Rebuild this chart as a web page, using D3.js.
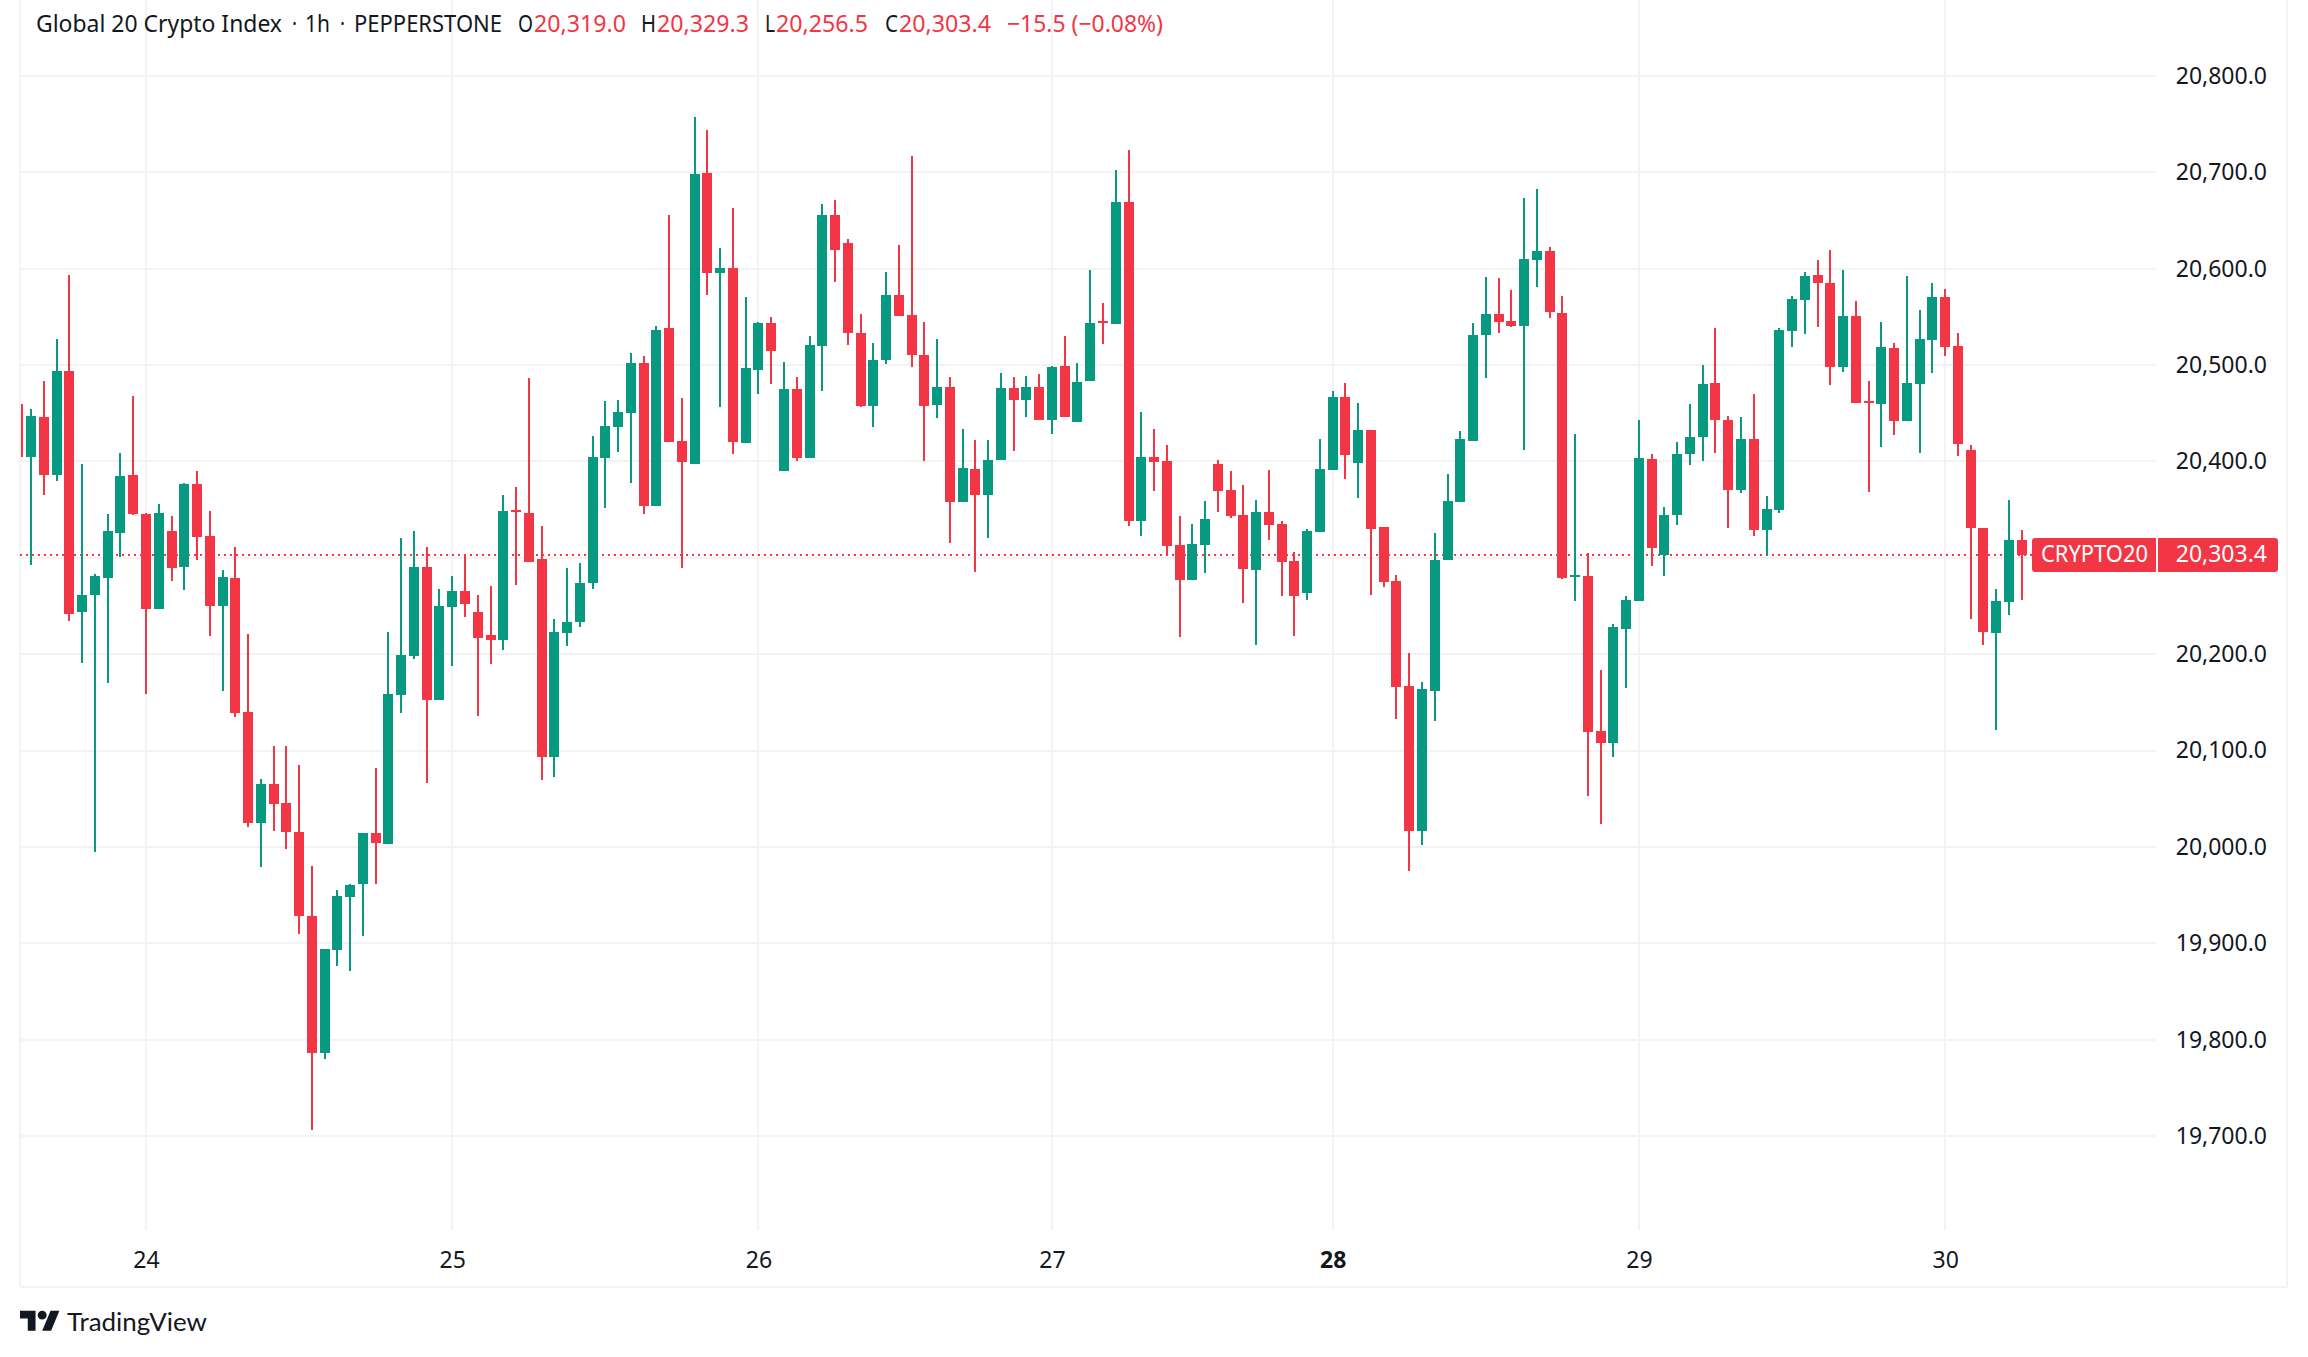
<!DOCTYPE html>
<html><head><meta charset="utf-8">
<script src="https://d3js.org/d3.v7.min.js"></script>
<style>html,body{margin:0;padding:0;background:#fff}svg{display:block}
text{font-family:"Noto Sans",sans-serif;font-size:23px;fill:#131722}</style>
</head><body><div id="c"></div>
<script>
const opens=[20460,20405,20446,20386,20494,20244,20261,20279,20326,20386,
20345,20247,20328,20290,20377,20323,20250,20279,20140,20025,
20065,20046,20015,19928,19786,19893,19948,19961,20014,20003,
20158,20198,20290,20152,20249,20266,20244,20220,20215,20350,
20346,20299,20093,20222,20233,20274,20404,20436,20450,20502,
20354,20538,20421,20397,20699,20596,20601,20419,20495,20544,
20390,20475,20404,20520,20656,20627,20533,20458,20505,20573,
20552,20510,20459,20477,20358,20392,20365,20401,20476,20464,
20477,20443,20499,20441,20483,20546,20543,20669,20338,20405,
20400,20313,20277,20313,20397,20370,20344,20287,20348,20335,
20297,20263,20327,20391,20467,20398,20433,20332,20276,20167,
20017,20162,20298,20358,20421,20531,20553,20546,20541,20609,
20618,20554,20280,20281,20120,20108,20226,20255,20403,20303,
20344,20408,20425,20481,20443,20370,20423,20329,20350,20535,
20568,20593,20585,20498,20551,20463,20460,20518,20442,20480,
20526,20571,20520,20412,20331,20222,20254,20319];
const closes=[20405,20447,20386,20494,20242,20261,20281,20328,20385,20345,
20247,20346,20289,20377,20322,20250,20280,20139,20025,20065,
20045,20015,19928,19786,19894,19949,19960,20014,20004,20159,
20199,20290,20152,20250,20266,20252,20217,20215,20349,20348,
20296,20093,20223,20233,20274,20405,20437,20451,20502,20354,
20536,20420,20399,20698,20596,20601,20420,20497,20544,20515,
20475,20404,20521,20656,20619,20533,20458,20505,20573,20551,
20510,20458,20477,20358,20393,20365,20402,20476,20464,20477,
20443,20498,20446,20482,20544,20544,20669,20338,20405,20399,
20312,20277,20314,20340,20369,20343,20288,20348,20334,20296,
20260,20328,20392,20467,20407,20433,20330,20275,20166,20016,
20164,20298,20359,20423,20531,20553,20545,20541,20610,20618,
20555,20279,20282,20119,20108,20228,20256,20404,20310,20344,
20408,20425,20480,20443,20370,20423,20329,20351,20536,20569,
20592,20585,20498,20551,20461,20461,20519,20442,20481,20527,
20571,20519,20418,20331,20223,20255,20319,20303.4];
const highs=[20460,20454,20483,20527,20594,20397,20283,20345,20409,20468,
20346,20356,20343,20378,20390,20349,20287,20311,20221,20070,
20105,20105,20085,19980,19894,19955,19962,20014,20082,20223,
20321,20328,20311,20268,20281,20304,20261,20271,20365,20373,
20487,20333,20237,20289,20295,20426,20463,20464,20513,20509,
20541,20656,20466,20757,20744,20622,20663,20571,20545,20550,
20503,20488,20530,20667,20671,20631,20553,20523,20597,20625,
20717,20545,20527,20488,20434,20422,20422,20492,20488,20489,
20491,20499,20530,20502,20599,20564,20702,20723,20451,20434,
20417,20343,20335,20359,20402,20390,20376,20360,20391,20338,
20306,20330,20423,20473,20481,20461,20433,20332,20282,20201,
20171,20326,20387,20432,20544,20591,20590,20578,20673,20683,
20623,20572,20428,20305,20184,20231,20260,20443,20408,20353,
20420,20460,20500,20539,20447,20446,20470,20364,20539,20572,
20597,20609,20619,20599,20566,20483,20545,20523,20592,20557,
20585,20579,20533,20417,20331,20268,20360,20329.3];
const lows=[20405,20293,20365,20380,20234,20191,19995,20170,20301,20344,
20159,20247,20276,20267,20298,20219,20162,20135,20021,19979,
20017,19998,19910,19706,19780,19876,19871,19908,19961,20003,
20139,20195,20066,20152,20188,20239,20136,20190,20204,20272,
20296,20069,20073,20208,20228,20268,20352,20410,20378,20345,
20354,20420,20289,20397,20573,20456,20408,20419,20470,20480,
20390,20400,20404,20473,20586,20521,20457,20436,20501,20551,
20498,20400,20445,20315,20358,20285,20321,20401,20411,20446,
20443,20429,20446,20441,20483,20522,20543,20333,20323,20369,
20302,20218,20277,20284,20348,20341,20253,20210,20319,20260,
20219,20256,20327,20391,20382,20362,20261,20270,20133,19975,
20002,20131,20298,20358,20421,20487,20533,20540,20412,20581,
20549,20278,20255,20053,20024,20093,20165,20255,20292,20281,
20334,20396,20400,20409,20331,20367,20323,20303,20347,20519,
20532,20540,20479,20493,20461,20368,20415,20427,20442,20409,
20492,20509,20406,20237,20210,20121,20241,20256.5];
const priceTicks=[20800,20700,20600,20500,20400,20300,20200,20100,20000,19900,19800,19700];
const dayIndex=[10,34,58,81,103,127,151];
const dayLabels=["24","25","26","27","28","29","30"];
const boldDay="28";
const lastPrice=20303.4;
const symbol="CRYPTO20";
const headerParts=[
 ["Global 20 Crypto Index",36,246,"#131722"],["·",292,5,"#131722"],["1h",305,25,"#131722"],
 ["·",340,5,"#131722"],["PEPPERSTONE",354,148,"#131722"],
 ["O",518,15,"#131722"],["20,319.0",534,92,"#f23645"],
 ["H",641,15,"#131722"],["20,329.3",657,92,"#f23645"],
 ["L",765,10,"#131722"],["20,256.5",776,92,"#f23645"],
 ["C",885,13,"#131722"],["20,303.4",899,92,"#f23645"],
 ["−15.5 (−0.08%)",1007,156,"#f23645"]];
const UP="#089981",DOWN="#f23645",GRID="#f3f3f3";

const W=2308,H=1357;
const svg=d3.select("#c").append("svg").attr("width",W).attr("height",H);
const y=d3.scaleLinear().domain([20800,19700]).range([76,1136]);
const x=d3.scaleLinear().domain([10,157]).range([146,2021.7]);
const paneL=20,paneR=2156,paneB=1230;

// frame
const frame=svg.append("g").attr("stroke",GRID).attr("stroke-width",2).attr("shape-rendering","crispEdges");
frame.append("line").attr("x1",20).attr("x2",20).attr("y1",0).attr("y2",1287);
frame.append("line").attr("x1",2287).attr("x2",2287).attr("y1",0).attr("y2",1287);
frame.append("line").attr("x1",20).attr("x2",2287).attr("y1",1287).attr("y2",1287);

// grid
const grid=svg.append("g").attr("stroke",GRID).attr("stroke-width",2).attr("shape-rendering","crispEdges");
grid.selectAll(".h").data(priceTicks).join("line").attr("x1",paneL).attr("x2",paneR)
  .attr("y1",d=>Math.round(y(d))).attr("y2",d=>Math.round(y(d)));
grid.selectAll(".v").data(dayIndex).join("line").attr("y1",0).attr("y2",paneB)
  .attr("x1",d=>Math.round(x(d))).attr("x2",d=>Math.round(x(d)));

svg.append("defs").append("clipPath").attr("id","pane").append("rect")
  .attr("x",paneL+1).attr("y",0).attr("width",paneR-paneL).attr("height",paneB);

// last price line
svg.append("line").attr("x1",paneL).attr("x2",2032).attr("y1",Math.round(y(lastPrice))).attr("y2",Math.round(y(lastPrice)))
  .attr("stroke",DOWN).attr("stroke-width",2).attr("stroke-dasharray","2 4").attr("shape-rendering","crispEdges");

// candles
const cg=svg.append("g").attr("clip-path","url(#pane)").attr("shape-rendering","crispEdges");
const idx=d3.range(opens.length);
const col=i=>closes[i]>=opens[i]?UP:DOWN;
cg.selectAll(".w").data(idx).join("rect").attr("fill",col)
  .attr("x",i=>Math.round(x(i))-1).attr("width",2)
  .attr("y",i=>y(highs[i])).attr("height",i=>y(lows[i])-y(highs[i]));
cg.selectAll(".b").data(idx).join("rect").attr("fill",col)
  .attr("x",i=>Math.round(x(i))-5).attr("width",10)
  .attr("y",i=>y(Math.max(opens[i],closes[i])))
  .attr("height",i=>Math.max(2,Math.abs(y(opens[i])-y(closes[i]))));

// price axis
const fmt=d3.format(",.1f");
const ay=svg.append("g").attr("transform","translate(2267,0)")
  .call(d3.axisRight(y).tickValues(priceTicks).tickFormat(fmt).tickSize(0).tickPadding(0));
ay.select(".domain").remove();
ay.selectAll("text").attr("text-anchor","end").attr("x",0).style("font-size","23px").attr("fill","#131722");

// time axis
const ax=svg.append("g").attr("transform","translate(0,1252)")
  .call(d3.axisBottom(x).tickValues(dayIndex).tickFormat((d,i)=>dayLabels[i]).tickSize(0).tickPadding(0));
ax.select(".domain").remove();
ax.selectAll("text").attr("fill","#131722").style("font-size","23px")
  .style("font-weight",(d,i)=>dayLabels[i]===boldDay?"700":"400");

// last price labels
const ly=y(lastPrice);
svg.append("path").attr("fill",DOWN)
  .attr("d",`M2156 538H2035a3 3 0 0 0-3 3V569a3 3 0 0 0 3 3H2156Z`);
svg.append("path").attr("fill",DOWN)
  .attr("d",`M2158 538H2275a3 3 0 0 1 3 3V569a3 3 0 0 1-3 3H2158Z`);
svg.append("text").attr("x",2041).attr("y",ly).attr("dy","0.32em").attr("textLength",107).attr("lengthAdjust","spacingAndGlyphs").style("fill","#fff").text(symbol);
svg.append("text").attr("x",2267).attr("y",ly).attr("dy","0.32em").attr("text-anchor","end").style("fill","#fff").text(fmt(lastPrice));

// header
svg.append("g").selectAll("text").data(headerParts).join("text")
  .attr("x",d=>d[1]).attr("y",32).attr("textLength",d=>d[2]).attr("lengthAdjust","spacingAndGlyphs")
  .style("fill",d=>d[3]).text(d=>d[0]);

// logo
const logo=svg.append("g").attr("transform","translate(20,1306.3) scale(1.11)").attr("fill","#131722");
logo.append("path").attr("d","M14 22H7V11H0V4h14v18zM28 22h-8l7.5-18h8L28 22z");
logo.append("circle").attr("cx",20).attr("cy",8).attr("r",4);
svg.append("text").attr("x",67).attr("y",1330.5).attr("textLength",140).attr("lengthAdjust","spacingAndGlyphs")
  .style("font-family","Lato,sans-serif").style("font-size","25px").text("TradingView");
</script></body></html>
